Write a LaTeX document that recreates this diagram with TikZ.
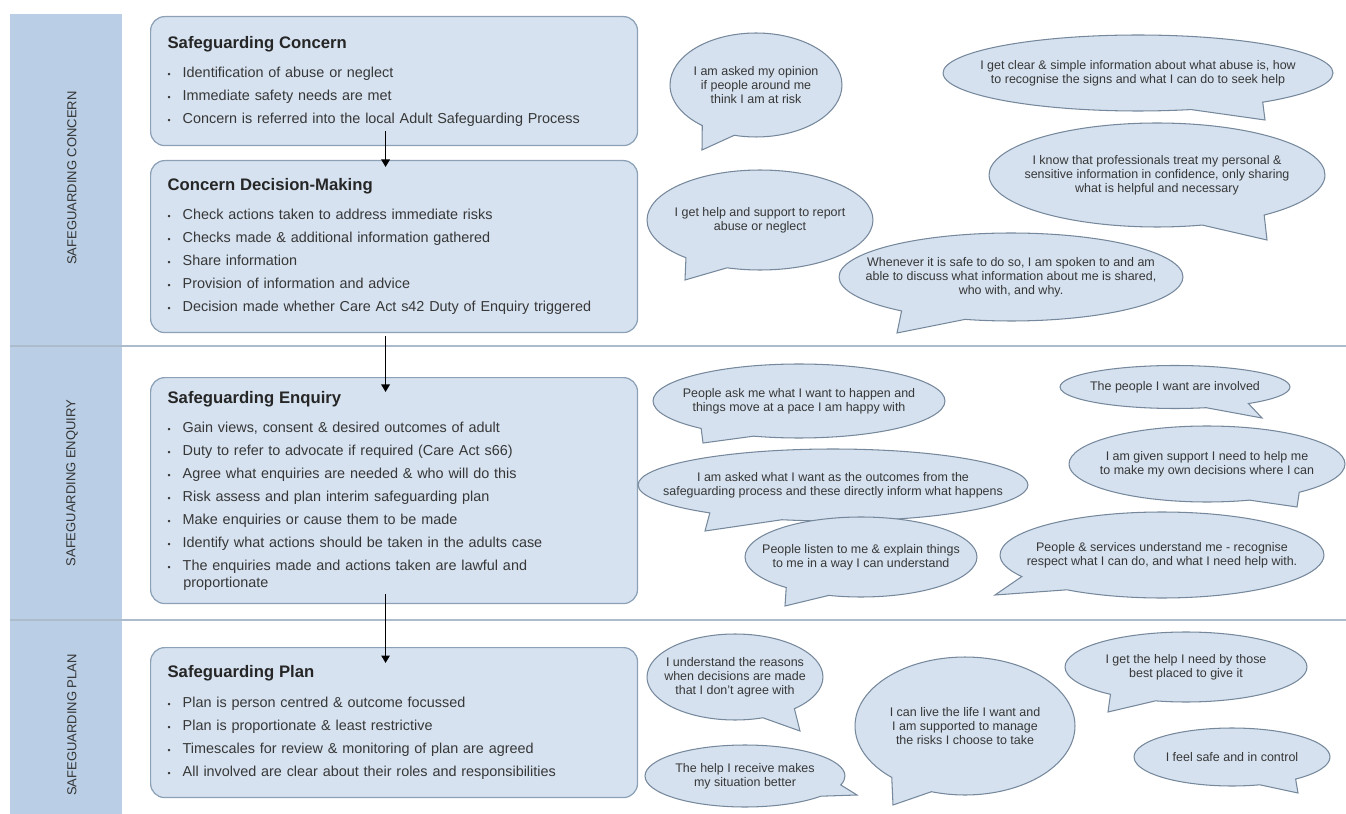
\documentclass[tikz,border=0pt]{standalone}
\usepackage{fontspec}
\setmainfont{Liberation Sans}
\usetikzlibrary{positioning,shapes.callouts,arrows.meta}
\definecolor{bandblue}{RGB}{186,207,229}
\definecolor{boxfill}{RGB}{214,226,240}
\definecolor{boxline}{RGB}{140,160,182}
\definecolor{bubblefill}{RGB}{213,225,239}
\definecolor{bubbleline}{RGB}{118,136,156}
\definecolor{sepgray}{RGB}{172,188,204}
\definecolor{inkgray}{RGB}{55,55,55}
\newcommand\bul{\makebox[8.6pt][l]{\fontsize{5}{5}\selectfont\textbullet}}
\newcommand\hd[1]{{\fontsize{9.5}{9.7}\selectfont\bfseries\color{black!85} #1}}

\begin{document}
\begin{tikzpicture}[x=0.02cm, y=-0.02cm,
    stage/.style={draw=boxline, fill=boxfill, rounded corners=8pt, line width=0.7pt, anchor=north west, inner xsep=0.34cm, inner ysep=0pt, text width=9.06cm, align=left, text=inkgray, font=\fontsize{8.2}{9.7}\selectfont},
    phase/.style={rotate=90, font=\fontsize{7.4}{8}\selectfont, text=black!80},
    bubble/.style={ellipse callout, draw=bubbleline, fill=bubblefill, line width=0.6pt, inner sep=0pt, outer sep=0pt, callout pointer arc=24},
    say/.style={align=center, text=inkgray, font=\fontsize{7.1}{7.9}\selectfont, inner sep=0pt},
    flow/.style={-{Triangle[length=1.5mm,width=1.7mm]}, line width=0.85pt, black}
]
\useasboundingbox (0,0) rectangle (1346,814);

% side band and section lines
\fill[bandblue] (10,14) rectangle (122,814);
\draw[sepgray, line width=1.2pt] (10,346) -- (1346,346);
\draw[sepgray, line width=1.2pt] (10,620) -- (1346,620);

\node[phase] (pconcern) at (72,178) {SAFEGUARDING CONCERN};
\node[phase] (penquiry) at (72,483) {SAFEGUARDING ENQUIRY};
\node[phase] (pplan) at (72,725) {SAFEGUARDING PLAN};

% stage boxes
\node[stage, minimum height=2.58cm] (c1) at (150,16) {\hd{Safeguarding Concern}\\[6.8pt]
\bul Identification of abuse or neglect\\[3.4pt]
\bul Immediate safety needs are met\\[3.4pt]
\bul Concern is referred into the local Adult Safeguarding Process};

\node[stage, minimum height=3.44cm] (c2) at (150,160) {\hd{Concern Decision-Making}\\[6.8pt]
\bul Check actions taken to address immediate risks\\[3.4pt]
\bul Checks made \& additional information gathered\\[3.4pt]
\bul Share information\\[3.4pt]
\bul Provision of information and advice\\[3.4pt]
\bul Decision made whether Care Act s42 Duty of Enquiry triggered};

\node[stage, minimum height=4.52cm] (c3) at (150,377) {\hd{Safeguarding Enquiry}\\[6.8pt]
\bul Gain views, consent \& desired outcomes of adult\\[3.4pt]
\bul Duty to refer to advocate if required (Care Act s66)\\[3.4pt]
\bul Agree what enquiries are needed \& who will do this\\[3.4pt]
\bul Risk assess and plan interim safeguarding plan\\[3.4pt]
\bul Make enquiries or cause them to be made\\[3.4pt]
\bul Identify what actions should be taken in the adults case\\[3.4pt]
\bul The enquiries made and actions taken are lawful and\\
\hspace*{9pt}proportionate};

\node[stage, minimum height=3.0cm] (c4) at (150,647) {\hd{Safeguarding Plan}\\[7.5pt]
\bul Plan is person centred \& outcome focussed\\[3.4pt]
\bul Plan is proportionate \& least restrictive\\[3.4pt]
\bul Timescales for review \& monitoring of plan are agreed\\[3.4pt]
\bul All involved are clear about their roles and responsibilities};

\draw[flow] ([xshift=-0.17cm,yshift=0.3cm]c1.south) -- ([xshift=-0.17cm,yshift=-0.14cm]c2.north);
\draw[flow] ([xshift=-0.17cm,yshift=-0.06cm]c2.south) -- ([xshift=-0.17cm,yshift=-0.3cm]c3.north);
\draw[flow] ([xshift=-0.17cm,yshift=0.2cm]c3.south) -- ([xshift=-0.17cm,yshift=-0.32cm]c4.north);

% speech bubbles, concern
\node[bubble, minimum width=3.44cm, minimum height=2.08cm, callout absolute pointer={(702,150)}] (b1) at (756,85) {};
\node[say] (t1) at (b1) {I am asked my opinion\\if people around me\\think I am at risk};
\node[bubble, minimum width=7.8cm, minimum height=1.52cm, callout absolute pointer={(1265,120)}] (b2) at (1138,73) {};
\node[say] (t2) at (b2) {I get clear \& simple information about what abuse is, how\\to recognise the signs and what I can do to seek help};
\node[bubble, minimum width=6.72cm, minimum height=2.08cm, callout absolute pointer={(1267,240)}] (b3) at (1157,175) {};
\node[say] (t3) at (b3) {I know that professionals treat my personal \&\\sensitive information in confidence, only sharing\\what is helpful and necessary};
\node[bubble, minimum width=4.52cm, minimum height=2.0cm, callout absolute pointer={(685,280)}] (b4) at (760,220) {};
\node[say] (t4) at (b4) {I get help and support to report\\abuse or neglect};
\node[bubble, minimum width=6.88cm, minimum height=1.76cm, callout absolute pointer={(897,333)}] (b5) at (1011,277) {};
\node[say] (t5) at (b5) {Whenever it is safe to do so, I am spoken to and am\\able to discuss what information about me is shared,\\who with, and why.};

% speech bubbles, enquiry
\node[bubble, minimum width=5.84cm, minimum height=1.48cm, callout absolute pointer={(703,443)}] (b6) at (799,401) {};
\node[say] (t6) at (b6) {People ask me what I want to happen and\\things move at a pace I am happy with};
\node[bubble, minimum width=4.6cm, minimum height=0.86cm, callout absolute pointer={(1262,418)}] (b7) at (1175,387) {};
\node[say] (t7) at (b7) {The people I want are involved};
\node[bubble, minimum width=7.8cm, minimum height=1.44cm, callout absolute pointer={(705,531)}] (b8) at (833,485) {};
\node[say] (t8) at (b8) {I am asked what I want as the outcomes from the\\safeguarding process and these directly inform what happens};
\node[bubble, minimum width=5.52cm, minimum height=1.52cm, callout absolute pointer={(1297,507)}] (b9) at (1207,464) {};
\node[say] (t9) at (b9) {I am given support I need to help me\\to make my own decisions where I can};
\node[bubble, minimum width=4.64cm, minimum height=1.6cm, callout absolute pointer={(785,606)}] (b10) at (861,557) {};
\node[say] (t10) at (b10) {People listen to me \& explain things\\to me in a way I can understand};
\node[bubble, minimum width=6.48cm, minimum height=1.72cm, callout absolute pointer={(995,595)}] (b11) at (1162,555) {};
\node[say] (t11) at (b11) {People \& services understand me - recognise\\respect what I can do, and what I need help with.};

% speech bubbles, plan
\node[bubble, minimum width=3.52cm, minimum height=1.72cm, callout absolute pointer={(800,731)}] (b12) at (735,677) {};
\node[say] (t12) at (b12) {I understand the reasons\\when decisions are made\\that I don't agree with};
\node[bubble, minimum width=4.0cm, minimum height=1.24cm, callout absolute pointer={(857,795)}] (b13) at (745,776) {};
\node[say] (t13) at (b13) {The help I receive makes\\my situation better};
\node[bubble, minimum width=4.4cm, minimum height=2.76cm, callout absolute pointer={(893,805)}] (b14) at (965,726) {};
\node[say] (t14) at (b14) {I can live the life I want and\\I am supported to manage\\the risks I choose to take};
\node[bubble, minimum width=4.84cm, minimum height=1.4cm, callout absolute pointer={(1108,712)}] (b15) at (1186,667) {};
\node[say] (t15) at (b15) {I get the help I need by those\\best placed to give it};
\node[bubble, minimum width=3.92cm, minimum height=1.16cm, callout absolute pointer={(1298,793)}] (b16) at (1232,757) {};
\node[say] (t16) at (b16) {I feel safe and in control};

\end{tikzpicture}
\end{document}
